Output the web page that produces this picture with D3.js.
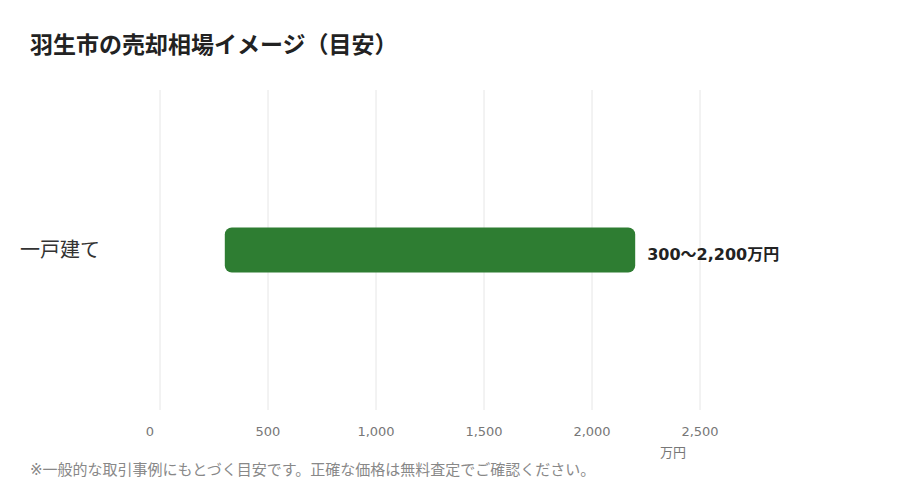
<!DOCTYPE html>
<html><head><meta charset="utf-8">
<script src="https://cdn.jsdelivr.net/npm/d3@7"></script>
<style>body{margin:0;background:#fff;font-family:"DejaVu Sans","Noto Sans CJK JP",sans-serif}</style>
</head><body><svg width="900" height="500"></svg>
<script>
const categories = ["一戸建て"];
const lows = [300];
const highs = [2200];
const rangeLabels = ["300〜2,200万円"];
const ticks = [0, 500, 1000, 1500, 2000, 2500];

const svg = d3.select("svg");
const x = d3.scaleLinear().domain([0, 2500]).range([160, 700]);
const y = d3.scaleBand().domain(categories).range([90, 410]).padding(0.7535);

svg.append("text").attr("x", 30).attr("y", 53)
    .attr("font-size", 23).attr("font-weight", "bold").attr("fill", "#222")
    .text("羽生市の売却相場イメージ（目安）");

svg.append("g").selectAll("line").data(ticks).join("line")
    .attr("x1", d => x(d)).attr("x2", d => x(d))
    .attr("y1", 90).attr("y2", 410)
    .attr("stroke", "#e6e6e6");

svg.append("g").selectAll("text").data(ticks).join("text")
    .attr("x", d => x(d) - (d === 0 ? 10 : 0)).attr("y", 436)
    .attr("text-anchor", "middle").attr("font-size", 13).attr("fill", "#777")
    .text(d => d3.format(",")(d));

svg.append("text").attr("x", 673).attr("y", 457).attr("text-anchor", "middle")
    .attr("font-size", 13).attr("fill", "#777").text("万円");

svg.append("g").selectAll("text").data(categories).join("text")
    .attr("x", 20).attr("y", d => y(d) + y.bandwidth() / 2)
    .attr("dy", "0.35em").attr("font-size", 20).attr("fill", "#333")
    .text(d => d);

svg.append("g").selectAll("rect").data(categories).join("rect")
    .attr("x", (d, i) => x(lows[i])).attr("width", (d, i) => x(highs[i]) - x(lows[i]))
    .attr("y", d => y(d)).attr("height", y.bandwidth())
    .attr("rx", 7).attr("fill", "#2e7d32");

svg.append("g").selectAll("text").data(categories).join("text")
    .attr("x", (d, i) => x(highs[i]) + 12).attr("y", d => y(d) + y.bandwidth() / 2 + 4)
    .attr("dy", "0.35em").attr("font-size", 16).attr("font-weight", "bold").attr("fill", "#222")
    .text((d, i) => rangeLabels[i]);

svg.append("text").attr("x", 30).attr("y", 475).attr("font-size", 15).attr("fill", "#888")
    .text("※一般的な取引事例にもとづく目安です。正確な価格は無料査定でご確認ください。");
</script></body></html>
